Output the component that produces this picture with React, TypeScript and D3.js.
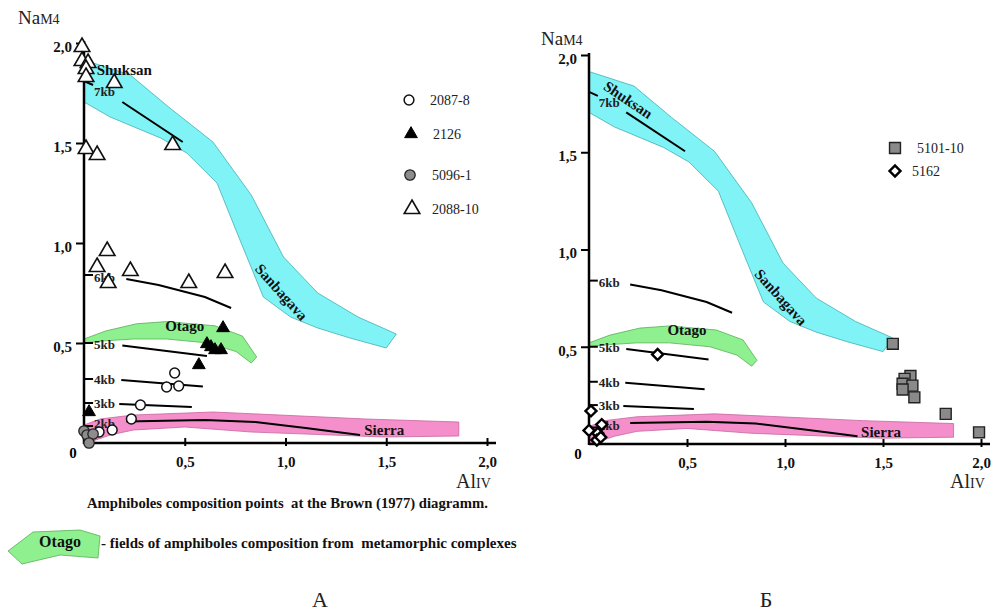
import React, { useRef, useEffect } from "react";
import * as d3 from "d3";

type P = [number, number];

// axis ticks (AlIV on x, NaM4 on y)
const xTicks = [0.5, 1.0, 1.5, 2.0];
const yTicks = [0.5, 1.0, 1.5, 2.0];

// metamorphic fields: upper edge left->right, then lower edge right->left
const shuksanField: P[] = [
  [0, 1.915], [0.23, 1.84], [0.42, 1.68], [0.64, 1.505], [0.83, 1.24], [0.99, 0.93],
  [1.16, 0.75], [1.36, 0.63], [1.55, 0.545],
  [1.5, 0.475], [1.32, 0.525], [1.16, 0.575], [1.025, 0.63], [0.89, 0.73],
  [0.78, 1.0], [0.66, 1.3], [0.51, 1.45], [0.38, 1.525], [0.13, 1.63], [0, 1.705],
];
const otagoField: P[] = [
  [0, 0.52], [0.107, 0.56], [0.26, 0.596], [0.41, 0.607], [0.65, 0.586], [0.786, 0.535], [0.857, 0.43],
  [0.83, 0.4], [0.755, 0.457], [0.617, 0.5], [0.41, 0.52], [0.245, 0.52], [0.09, 0.51], [0, 0.5],
];
const sierraField: P[] = [
  [0, 0.09], [0.08, 0.12], [0.245, 0.14], [0.64, 0.155], [0.97, 0.14], [1.4, 0.12], [1.86, 0.105],
  [1.86, 0.035], [1.49, 0.03], [0.83, 0.055], [0.5, 0.08], [0.245, 0.065], [0.13, 0.04], [0.03, 0.005], [0, 0],
];

// Brown (1977) isobars
const isobarNames = ["7kb", "6kb", "5kb", "4kb", "3kb", "2kb"];
const isobarLevels = [1.81, 0.84, 0.5, 0.32, 0.2, 0.085];
const isobarLines: P[][] = [
  [[0.19, 1.705], [0.49, 1.505]],
  [[0.21, 0.82], [0.37, 0.79], [0.6, 0.73], [0.73, 0.675]],
  [[0.19, 0.488], [0.61, 0.435]],
  [[0.185, 0.315], [0.59, 0.282]],
  [[0.175, 0.195], [0.535, 0.18]],
  [[0.21, 0.108], [0.6, 0.115], [0.85, 0.105], [1.1, 0.075], [1.37, 0.04]],
];

// samples, panel A
const pts2087: P[] = [
  [0.45, 0.35], [0.41, 0.28], [0.47, 0.285], [0.28, 0.19], [0.235, 0.12], [0.14, 0.065], [0.075, 0.055],
];
const pts2126: P[] = [
  [0.69, 0.575], [0.61, 0.495], [0.63, 0.48], [0.65, 0.465], [0.68, 0.465], [0.57, 0.39], [0.025, 0.155],
];
const pts5096: P[] = [[0.0, 0.06], [0.015, 0.04], [0.045, 0.045], [0.025, 0.0]];
const pts2088: P[] = [
  [-0.01, 1.98], [-0.01, 1.91], [0.02, 1.9], [0.01, 1.87], [0.01, 1.83], [0.15, 1.8],
  [0.44, 1.49], [0.01, 1.47], [0.065, 1.44], [0.115, 0.96], [0.065, 0.88], [0.23, 0.86],
  [0.12, 0.8], [0.52, 0.8], [0.7, 0.85],
];
// samples, panel Б
const pts5101: P[] = [
  [1.55, 0.515], [1.64, 0.35], [1.61, 0.335], [1.6, 0.31], [1.65, 0.3], [1.6, 0.28],
  [1.66, 0.24], [1.82, 0.155], [1.99, 0.06],
];
const pts5162: P[] = [
  [0.35, 0.46], [0.01, 0.17], [0.0, 0.07], [0.065, 0.1], [0.045, 0.055], [0.04, 0.02], [0.06, 0.035],
];

const legendA = ["2087-8", "2126", "5096-1", "2088-10"];
const legendB = ["5101-10", "5162"];

const SERIF = "'Liberation Serif', 'Times New Roman', serif";
const fmt = (d: number) => d3.format(".1f")(d).replace(".", ",");

const markers: Record<string, { type: d3.SymbolType; size: number; fill: string; stroke: string; sw: number; rot?: number }> = {
  "2087-8": { type: d3.symbolCircle, size: 75, fill: "#fff", stroke: "#111", sw: 1.5 },
  "2126": { type: d3.symbolTriangle, size: 70, fill: "#000", stroke: "#000", sw: 1 },
  "5096-1": { type: d3.symbolCircle, size: 85, fill: "#8c8c8c", stroke: "#222", sw: 1.3 },
  "2088-10": { type: d3.symbolTriangle, size: 105, fill: "#fff", stroke: "#111", sw: 1.6 },
  "5101-10": { type: d3.symbolSquare, size: 120, fill: "#8a8a8a", stroke: "#222", sw: 1.4 },
  "5162": { type: d3.symbolSquare, size: 60, fill: "#fff", stroke: "#000", sw: 2.4, rot: 45 },
};

function drawPanel(svg: any, x: any, y: any, cfg: any) {
  const g = svg.append("g");
  const line = d3.line<P>().x((d) => x(d[0])).y((d) => y(d[1]));

  // fields
  const fields = [
    { pts: shuksanField, fill: "#80f3f6", stroke: "#45aeb2" },
    { pts: otagoField, fill: "#8ff08f", stroke: "#55b055" },
    { pts: sierraField, fill: "#f48fcb", stroke: "#c8649e" },
  ];
  fields.forEach((f) => {
    g.append("path").attr("d", line(f.pts) + "Z").attr("fill", f.fill).attr("stroke", f.stroke).attr("stroke-width", 0.8);
  });

  // isobars
  isobarLines.forEach((pts, i) => {
    g.append("path").attr("d", line(pts)).attr("fill", "none").attr("stroke", "#000").attr("stroke-width", 2);
    const lv = isobarLevels[i];
    g.append("line").attr("x1", x(0)).attr("x2", x(0.045)).attr("y1", y(lv)).attr("y2", y(lv + (i === 0 ? -0.02 : 0)))
      .attr("stroke", "#000").attr("stroke-width", 2);
    g.append("text").attr("x", x(0.05)).attr("y", y((lv + pts[0][1]) / 2)).attr("dy", "0.35em")
      .attr("font-family", SERIF).attr("font-weight", "bold").attr("font-size", 13).attr("fill", "#222")
      .text(isobarNames[i]);
  });

  // field names
  const lab = (t: string, px: number, py: number, rot: number) =>
    g.append("text").attr("transform", `translate(${x(px)},${y(py)}) rotate(${rot})`)
      .attr("text-anchor", "middle").attr("dy", "0.35em")
      .attr("font-family", SERIF).attr("font-weight", "bold").attr("font-size", 15).attr("fill", "#111").text(t);
  lab("Shuksan", cfg.shuksan[0], cfg.shuksan[1], cfg.shuksan[2]);
  lab("Sanbagava", 0.98, 0.755, 48);
  lab("Otago", 0.5, 0.585, 0);
  lab("Sierra", 1.49, 0.065, 0);

  // axes
  const xAxis = d3.axisBottom(x).tickValues(xTicks).tickFormat(fmt).tickSizeOuter(0).tickSize(4).tickPadding(9);
  const ax = g.append("g").attr("transform", `translate(0,${y(0)})`).call(xAxis);
  ax.selectAll(".tick line").attr("y1", -5).attr("y2", 3).attr("stroke-width", 2);
  const yAxis = d3.axisLeft(y).tickValues(yTicks).tickFormat(fmt).tickSizeOuter(0).tickSize(8).tickPadding(4);
  const ay = g.append("g").attr("transform", `translate(${x(0)},0)`).call(yAxis);
  ay.selectAll(".tick line").attr("stroke-width", 2);
  ay.selectAll("text").attr("dy", "0.55em");
  [ax, ay].forEach((a: any) => {
    a.select(".domain").remove();
    a.selectAll("text").attr("font-family", SERIF).attr("font-weight", "bold").attr("font-size", 15).attr("fill", "#111");
  });
  g.append("line").attr("x1", x(0)).attr("x2", x(2) + 9).attr("y1", y(0)).attr("y2", y(0)).attr("stroke", "#000").attr("stroke-width", 2.5);
  g.append("line").attr("x1", x(0)).attr("x2", x(0)).attr("y1", y(0) + 1).attr("y2", y(2) - 2).attr("stroke", "#000").attr("stroke-width", 2.5);
  g.append("text").attr("x", x(0) - 11).attr("y", y(0) + 10).attr("text-anchor", "middle").attr("dy", "0.35em")
    .attr("font-family", SERIF).attr("font-weight", "bold").attr("font-size", 15).text("0");

  // axis titles
  const ty = g.append("text").attr("x", cfg.naX).attr("y", cfg.naY).attr("font-family", SERIF).attr("font-size", 19).attr("fill", "#222");
  ty.append("tspan").text("Na");
  ty.append("tspan").attr("font-size", 14).text("M4");
  const tx = g.append("text").attr("x", x(2) - 31).attr("y", 488).attr("font-family", SERIF).attr("font-size", 20).attr("fill", "#222");
  tx.append("tspan").text("Al");
  tx.append("tspan").attr("font-size", 14).text("IV");

  // points
  cfg.series.forEach((s: any) => {
    const m = markers[s.name];
    const sym = d3.symbol().type(m.type).size(m.size);
    g.append("g").selectAll("path").data(s.pts).join("path")
      .attr("d", sym() as string)
      .attr("transform", (d: P) => `translate(${x(d[0])},${y(d[1])}) rotate(${m.rot || 0})`)
      .attr("fill", m.fill).attr("stroke", m.stroke).attr("stroke-width", m.sw);
  });

  // legend
  cfg.legend.forEach((name: string, i: number) => {
    const m = markers[name];
    const sym = d3.symbol().type(m.type).size(m.size);
    const [lx, ly] = cfg.legendPos[i];
    g.append("path").attr("d", sym() as string).attr("transform", `translate(${lx},${ly}) rotate(${m.rot || 0})`)
      .attr("fill", m.fill).attr("stroke", m.stroke).attr("stroke-width", m.sw);
    g.append("text").attr("x", lx + cfg.legendDx[i]).attr("y", ly).attr("dy", "0.35em")
      .attr("font-family", SERIF).attr("font-size", 14).attr("fill", "#222").text(name);
  });
}

const App = () => {
  const svgRef = useRef<SVGSVGElement>(null);

  useEffect(() => {
    const svg = d3.select(svgRef.current);
    svg.selectAll("*").remove();

    const xA = d3.scaleLinear().domain([0, 2]).range([84, 487]);
    const yA = d3.scaleLinear().domain([0, 2]).range([443, 43]);
    const xB = d3.scaleLinear().domain([0, 2]).range([589, 981]);
    const yB = d3.scaleLinear().domain([0, 2]).range([444, 55]);

    drawPanel(svg, xA, yA, {
      naX: 18, naY: 24,
      shuksan: [0.2, 1.865, 0],
      series: [
        { name: "2087-8", pts: pts2087 },
        { name: "5096-1", pts: pts5096 },
        { name: "2126", pts: pts2126 },
        { name: "2088-10", pts: pts2088 },
      ],
      legend: legendA,
      legendPos: [[409, 100], [411, 134], [410, 175], [412, 209]],
      legendDx: [21, 22, 22, 20],
    });
    drawPanel(svg, xB, yB, {
      naX: 541, naY: 45,
      shuksan: [0.2, 1.77, 34],
      series: [
        { name: "5101-10", pts: pts5101 },
        { name: "5162", pts: pts5162 },
      ],
      legend: legendB,
      legendPos: [[895, 148], [895, 171]],
      legendDx: [22, 17],
    });

    // caption and field legend
    svg.append("text").attr("x", 87).attr("y", 508).attr("font-family", SERIF).attr("font-weight", "bold")
      .attr("font-size", 14.7).attr("fill", "#111").style("white-space", "pre")
      .text("Amphiboles composition points  at the Brown (1977) diagramm.");
    svg.append("path").attr("d", "M8,551 L33,532 L80,530 L100,536 L98,558 L60,555 L22,564 Z")
      .attr("fill", "#8ff08f").attr("stroke", "#55b055").attr("stroke-width", 0.8);
    svg.append("text").attr("x", 60).attr("y", 547).attr("text-anchor", "middle").attr("font-family", SERIF)
      .attr("font-weight", "bold").attr("font-size", 16).attr("fill", "#111").text("Otago");
    svg.append("text").attr("x", 101).attr("y", 548).attr("font-family", SERIF).attr("font-weight", "bold")
      .attr("font-size", 15).attr("fill", "#111").style("white-space", "pre")
      .text("- fields of amphiboles composition from  metamorphic complexes");
    svg.append("text").attr("x", 320).attr("y", 607).attr("text-anchor", "middle").attr("font-family", SERIF)
      .attr("font-size", 22).attr("fill", "#222").text("А");
    svg.append("text").attr("x", 766).attr("y", 607).attr("text-anchor", "middle").attr("font-family", SERIF)
      .attr("font-size", 22).attr("fill", "#222").text("Б");
  }, []);

  return (
    <div style={{ position: "absolute", left: 0, top: 0, background: "#fff" }}>
      <svg ref={svgRef} width={994} height={612} style={{ display: "block" }}></svg>
    </div>
  );
};

export default App;
